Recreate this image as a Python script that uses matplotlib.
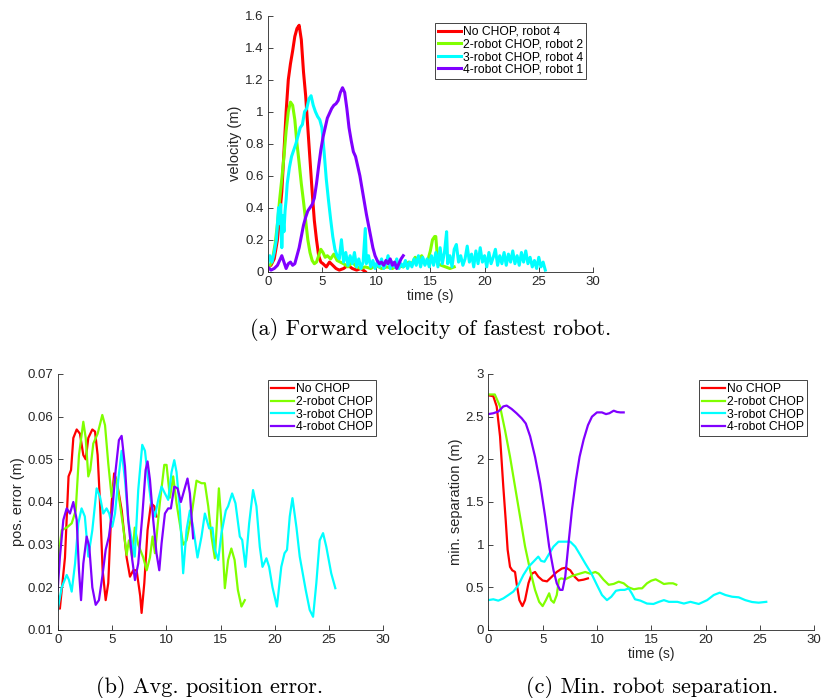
import matplotlib
matplotlib.use("Agg")
import matplotlib.pyplot as plt
from matplotlib.ticker import FormatStrFormatter, MultipleLocator

plt.rcParams['font.family'] = ['Liberation Sans', 'DejaVu Sans']

# ---------------- colours ----------------
C_RED = '#ff0000'
C_GREEN = '#80ff00'
C_CYAN = '#00ffff'
C_PURPLE = '#8000ff'

# ---------------- (a) forward velocity ----------------
vel_labels = ['No CHOP, robot 4', '2-robot CHOP, robot 2', '3-robot CHOP, robot 4', '4-robot CHOP, robot 1']

vel_t_no = [0, 0.3, 0.6, 0.9, 1.1, 1.3, 1.5, 1.7, 1.9, 2.1, 2.3, 2.5, 2.7, 2.9, 3.1, 3.3, 3.5, 3.7, 3.9, 4.1,
            4.3, 4.5, 4.7, 4.9, 5.1, 5.4, 5.7, 6.0, 6.3, 6.6, 7.0, 7.4, 7.8, 8.2, 8.6, 9.0]
vel_v_no = [0.03, 0.04, 0.08, 0.2, 0.35, 0.5, 0.75, 1.0, 1.2, 1.3, 1.38, 1.47, 1.52, 1.54, 1.45, 1.25, 1.1, 0.9, 0.7, 0.5,
            0.32, 0.2, 0.1, 0.06, 0.05, 0.03, 0.06, 0.04, 0.02, 0.01, 0.02, 0.04, 0.02, 0.01, 0.02, 0.0]

vel_t_2 = [0, 0.3, 0.5, 0.7, 0.9, 1.1, 1.3, 1.5, 1.7, 1.9, 2.1, 2.3, 2.5, 2.7, 2.9, 3.1, 3.3, 3.5, 3.7, 3.9,
           4.1, 4.3, 4.5, 4.7, 4.9, 5.1, 5.3, 5.5, 5.8, 6.1, 6.4, 6.7, 7.0, 7.4, 7.8, 8.2, 8.6, 9.0, 9.5, 10,
           10.5, 11, 11.5, 12, 12.5, 13, 13.3, 13.6, 13.9, 14.2, 14.5, 14.8, 15.0, 15.2, 15.4, 15.5, 15.7, 16.0,
           16.4, 16.8, 17.2]
vel_v_2 = [0.02, 0.05, 0.1, 0.18, 0.3, 0.45, 0.58, 0.72, 0.88, 1.0, 1.06, 1.04, 0.95, 0.8, 0.68, 0.55, 0.44, 0.32, 0.2, 0.12,
           0.07, 0.05, 0.06, 0.1, 0.14, 0.12, 0.09, 0.1, 0.08, 0.11, 0.07, 0.06, 0.05, 0.03, 0.06, 0.03, 0.02, 0.03, 0.02, 0.04,
           0.02, 0.03, 0.02, 0.04, 0.03, 0.06, 0.05, 0.09, 0.07, 0.1, 0.05, 0.08, 0.13, 0.2, 0.22, 0.22, 0.05, 0.04,
           0.03, 0.02, 0.03]

vel_t_3 = [0, 0.2, 0.4, 0.6, 0.8, 1.0, 1.1, 1.2, 1.3, 1.4, 1.5, 1.6, 1.7, 1.8, 1.9, 2.0, 2.2, 2.4, 2.6, 2.8,
           3.0, 3.2, 3.4, 3.6, 3.8, 4.0, 4.2, 4.4, 4.6, 4.8, 5.0, 5.2, 5.4, 5.6, 5.8, 6.0, 6.2, 6.4,
           6.6, 6.8, 7.0, 7.2, 7.4, 7.6, 7.8, 8.0, 8.2, 8.4, 8.6, 8.8, 9.0, 9.1, 9.3, 9.5, 9.7, 9.9,
           10.1, 10.3, 10.5, 10.7, 10.9, 11.1, 11.3, 11.5, 11.7, 11.9, 12.1, 12.3, 12.5, 12.7, 12.9,
           13.1, 13.3, 13.5, 13.7, 13.9, 14.1, 14.3, 14.5, 14.7, 14.9, 15.1, 15.3, 15.5, 15.7, 15.9,
           16.1, 16.3, 16.5, 16.6, 16.8, 17.0, 17.2, 17.4, 17.6, 17.8, 18.0, 18.2, 18.4, 18.6, 18.8,
           19.0, 19.2, 19.4, 19.6, 19.8, 20.0, 20.2, 20.4, 20.6, 20.8, 21.0, 21.2, 21.4, 21.6, 21.8,
           22.0, 22.2, 22.4, 22.6, 22.8, 23.0, 23.2, 23.4, 23.6, 23.8, 24.0, 24.2, 24.4, 24.6, 24.8,
           25.0, 25.2, 25.4, 25.6]
vel_v_3 = [0.05, 0.1, 0.06, 0.12, 0.2, 0.4, 0.3, 0.42, 0.15, 0.35, 0.25, 0.38, 0.45, 0.55, 0.6, 0.65, 0.72, 0.76, 0.8, 0.85,
           0.9, 0.92, 1.0, 1.02, 1.08, 1.1, 1.04, 1.0, 0.97, 0.95, 0.9, 0.75, 0.58, 0.45, 0.33, 0.22, 0.14, 0.1,
           0.08, 0.2, 0.06, 0.12, 0.04, 0.1, 0.05, 0.12, 0.03, 0.08, 0.02, 0.06, 0.27, 0.05, 0.1, 0.03, 0.07, 0.02,
           0.06, 0.03, 0.08, 0.02, 0.05, 0.1, 0.02, 0.06, 0.03, 0.08, 0.02, 0.05, 0.03, 0.07, 0.02,
           0.06, 0.03, 0.08, 0.04, 0.1, 0.03, 0.09, 0.04, 0.08, 0.03, 0.1, 0.04, 0.12, 0.03, 0.15,
           0.05, 0.12, 0.25, 0.05, 0.1, 0.03, 0.14, 0.17, 0.06, 0.1, 0.04, 0.08, 0.16, 0.06, 0.11,
           0.03, 0.13, 0.05, 0.15, 0.06, 0.1, 0.03, 0.12, 0.05, 0.09, 0.14, 0.04, 0.1, 0.05, 0.12,
           0.04, 0.11, 0.06, 0.13, 0.05, 0.1, 0.04, 0.12, 0.06, 0.13, 0.05, 0.09, 0.03, 0.07, 0.02,
           0.09, 0.03, 0.06, 0.01]

vel_t_4 = [0, 0.3, 0.6, 0.9, 1.1, 1.3, 1.5, 1.7, 1.9, 2.1, 2.3, 2.5, 2.7, 2.9, 3.1, 3.3, 3.5, 3.7, 3.9, 4.1,
           4.3, 4.5, 4.7, 4.9, 5.1, 5.3, 5.5, 5.7, 5.9, 6.1, 6.3, 6.5, 6.7, 6.9, 7.1, 7.3, 7.5, 7.7, 7.9, 8.1,
           8.3, 8.5, 8.7, 8.9, 9.1, 9.3, 9.5, 9.7, 9.9, 10.1, 10.3, 10.5, 10.7, 10.9, 11.1, 11.3, 11.5, 11.7,
           11.9, 12.1, 12.3, 12.5]
vel_v_4 = [0.03, 0.01, 0.02, 0.04, 0.07, 0.1, 0.06, 0.02, 0.05, 0.06, 0.04, 0.05, 0.1, 0.15, 0.22, 0.29, 0.34, 0.38, 0.4, 0.42,
           0.46, 0.55, 0.66, 0.76, 0.84, 0.9, 0.96, 0.99, 1.02, 1.04, 1.05, 1.07, 1.12, 1.15, 1.12, 1.02, 0.9, 0.82, 0.75, 0.72,
           0.66, 0.6, 0.52, 0.44, 0.36, 0.29, 0.22, 0.15, 0.1, 0.07, 0.05, 0.06, 0.04, 0.07, 0.05, 0.08, 0.04, 0.06,
           0.02, 0.05, 0.08, 0.1]

# ---------------- (b) average position error ----------------
err_labels = ['No CHOP', '2-robot CHOP', '3-robot CHOP', '4-robot CHOP']

err_t_no = [0, 0.2, 0.67, 1.0, 1.23, 1.44, 1.75, 2.05, 2.36, 2.58, 2.82, 3.19, 3.44, 3.68, 3.9, 4.14, 4.42, 4.66,
            4.97, 5.2, 5.43, 5.9, 6.35, 6.66, 6.96, 7.27, 7.6, 7.73, 7.98, 8.28, 8.6, 8.9, 9.1]
err_e_no = [0.018, 0.015, 0.027, 0.046, 0.0475, 0.055, 0.057, 0.056, 0.051, 0.05, 0.055, 0.057, 0.0565, 0.051, 0.0397,
            0.024, 0.017, 0.021, 0.0397, 0.0467, 0.045, 0.038, 0.027, 0.0225, 0.024, 0.024, 0.018, 0.014, 0.021, 0.0334,
            0.0397, 0.039, 0.0366]

err_t_2 = [0, 0.37, 0.83, 1.29, 1.66, 1.96, 2.36, 2.58, 2.82, 3.0, 3.28, 3.68, 4.11, 4.36, 4.66, 4.97, 5.3, 5.6,
           6.04, 6.35, 6.56, 6.87, 7.1, 7.42, 7.88, 8.2, 8.5, 8.74, 8.96, 9.42, 9.82, 10.03, 10.34, 10.64, 10.95,
           11.56, 11.87, 12.33, 12.79, 13.25, 13.56, 13.87, 14.17, 14.48, 14.85, 15.09, 15.4, 15.7, 16.0, 16.3,
           16.6, 16.93, 17.24]
err_e_2 = [0.0256, 0.0334, 0.034, 0.035, 0.038, 0.051, 0.0588, 0.055, 0.046, 0.0475, 0.0537, 0.056, 0.0604, 0.058,
           0.049, 0.0412, 0.046, 0.042, 0.034, 0.0276, 0.031, 0.027, 0.034, 0.030, 0.027, 0.024, 0.027, 0.0319, 0.028,
           0.040, 0.0487, 0.0487, 0.041, 0.046, 0.0397, 0.030, 0.031, 0.037, 0.045, 0.0444, 0.0444, 0.039, 0.0319,
           0.0268, 0.0432, 0.035, 0.0198, 0.0264, 0.0291, 0.0264, 0.0194, 0.0155, 0.017]

err_t_3 = [0, 0.37, 0.83, 1.04, 1.29, 1.6, 1.9, 2.2, 2.5, 2.82, 3.19, 3.59, 3.9, 4.2, 4.5, 4.75, 5.03, 5.28, 5.58,
           5.89, 6.2, 6.5, 6.87, 7.1, 7.42, 7.79, 8.04, 8.34, 8.65, 8.96, 9.26, 9.57, 9.88, 10.18, 10.49, 10.74,
           10.95, 11.26, 11.56, 11.87, 12.18, 12.48, 12.88, 13.25, 13.56, 13.96, 14.26, 14.48, 14.79, 15.09,
           15.49, 15.7, 16.07, 16.38, 16.78, 17.0, 17.3, 17.64, 18.0, 18.31, 18.62, 18.87, 19.23, 19.48, 19.79,
           20.2, 20.6, 20.9, 21.13, 21.38, 21.63, 22.0, 22.3, 22.85, 23.22, 23.53, 23.83, 24.14, 24.45, 24.75,
           25.2, 25.58]
err_e_3 = [0.0147, 0.020, 0.0229, 0.0217, 0.019, 0.0256, 0.035, 0.0385, 0.0366, 0.0272, 0.0334, 0.0432, 0.0412,
           0.0373, 0.0385, 0.0373, 0.0342, 0.0373, 0.0452, 0.052, 0.0452, 0.0358, 0.0303, 0.0272, 0.0428, 0.0534,
           0.052, 0.0452, 0.039, 0.0366, 0.0405, 0.0436, 0.042, 0.0405, 0.047, 0.0498, 0.047, 0.038, 0.0233, 0.0334,
           0.038, 0.034, 0.027, 0.0319, 0.0373, 0.0338, 0.034, 0.0288, 0.0264, 0.0327, 0.038, 0.039, 0.042, 0.0397,
           0.0319, 0.0311, 0.0248, 0.035, 0.0428, 0.039, 0.0295, 0.0248, 0.0268, 0.0248, 0.020, 0.0155, 0.0248,
           0.028, 0.0288, 0.0366, 0.0409, 0.034, 0.0272, 0.0194, 0.0147, 0.0131, 0.021, 0.031, 0.0327, 0.0295,
           0.0233, 0.0198]

err_t_4 = [0, 0.2, 0.52, 0.83, 1.13, 1.44, 1.75, 1.96, 2.15, 2.36, 2.67, 2.91, 3.19, 3.5, 3.8, 4.11, 4.42, 4.72,
           5.03, 5.34, 5.64, 5.89, 6.2, 6.5, 6.87, 7.12, 7.42, 7.79, 8.1, 8.28, 8.5, 8.8, 9.1, 9.36, 9.57, 9.88,
           10.18, 10.43, 10.74, 11.04, 11.35, 11.66, 11.96, 12.18, 12.33, 12.48]
err_e_4 = [0.0194, 0.027, 0.0358, 0.0385, 0.0373, 0.040, 0.0358, 0.024, 0.017, 0.0256, 0.0319, 0.0295, 0.020, 0.0159,
           0.017, 0.0225, 0.0288, 0.0319, 0.038, 0.0475, 0.0545, 0.0555, 0.0483, 0.0358, 0.0264, 0.0217, 0.0256,
           0.0366, 0.0475, 0.0495, 0.0452, 0.0358, 0.028, 0.024, 0.0303, 0.0373, 0.0385, 0.0385, 0.0436, 0.0432,
           0.040, 0.0428, 0.0455, 0.042, 0.0366, 0.0315]

# ---------------- (c) minimum robot separation ----------------
sep_t_no = [0, 0.46, 0.77, 1.08, 1.38, 1.6, 1.78, 2.0, 2.2, 2.46, 2.6, 2.86, 3.14, 3.38, 3.7, 4.0, 4.3, 4.6, 5.0,
            5.4, 5.85, 6.3, 6.77, 7.14, 7.54, 7.94, 8.3, 8.77, 9.17]
sep_s_no = [2.75, 2.74, 2.62, 2.27, 1.68, 1.29, 0.94, 0.74, 0.70, 0.68, 0.55, 0.35, 0.28, 0.35, 0.55, 0.66, 0.68,
            0.625, 0.58, 0.57, 0.625, 0.68, 0.72, 0.73, 0.70, 0.625, 0.58, 0.59, 0.605]

sep_t_2 = [0, 0.6, 1.08, 1.54, 2.0, 2.46, 2.92, 3.38, 3.85, 4.3, 4.68, 5.0, 5.3, 5.6, 5.78, 6.03, 6.3, 6.5, 6.7,
           7.08, 7.7, 8.3, 8.92, 9.38, 9.85, 10.15, 10.6, 11.08, 11.54, 12.0, 12.46, 12.9, 13.4, 13.85, 14.15,
           14.6, 15.0, 15.4, 15.8, 16.16, 16.62, 17.0, 17.3]
sep_s_2 = [2.76, 2.76, 2.62, 2.34, 2.03, 1.68, 1.33, 0.98, 0.70, 0.47, 0.33, 0.28, 0.35, 0.43, 0.35, 0.32, 0.41,
           0.59, 0.605, 0.594, 0.633, 0.656, 0.68, 0.66, 0.68, 0.66, 0.59, 0.53, 0.54, 0.566, 0.547, 0.50, 0.477,
           0.488, 0.488, 0.547, 0.578, 0.594, 0.566, 0.539, 0.547, 0.547, 0.531]

sep_t_3 = [0, 0.46, 0.92, 1.38, 1.85, 2.3, 2.77, 3.23, 3.7, 4.15, 4.6, 4.86, 5.17, 5.54, 6.0, 6.46, 7.08, 7.54,
           8.0, 8.46, 8.92, 9.48, 10.0, 10.46, 10.92, 11.32, 11.75, 12.15, 12.55, 12.92, 13.2, 13.5, 14.0, 14.6,
           15.2, 15.7, 16.16, 16.62, 17.4, 18.0, 18.6, 19.37, 20.14, 20.75, 21.3, 21.82, 22.43, 23.04, 23.65,
           24.27, 24.88, 25.58]
sep_s_3 = [0.35, 0.36, 0.344, 0.37, 0.41, 0.45, 0.527, 0.645, 0.74, 0.80, 0.86, 0.81, 0.80, 0.88, 0.977, 1.035,
           1.035, 1.035, 0.977, 0.88, 0.78, 0.664, 0.527, 0.41, 0.35, 0.39, 0.46, 0.47, 0.47, 0.488, 0.43, 0.36,
           0.344, 0.31, 0.305, 0.33, 0.35, 0.33, 0.33, 0.31, 0.33, 0.305, 0.35, 0.41, 0.4375, 0.41, 0.39, 0.383,
           0.35, 0.328, 0.32, 0.33]

sep_t_4 = [0, 0.46, 0.92, 1.38, 1.69, 2.15, 2.6, 3.08, 3.45, 3.85, 4.3, 4.77, 5.23, 5.6, 6.0, 6.3, 6.6, 6.83,
           7.08, 7.38, 7.7, 8.06, 8.4, 8.77, 9.17, 9.54, 10.0, 10.46, 10.83, 11.14, 11.54, 11.85, 12.15, 12.46]
sep_s_4 = [2.53, 2.54, 2.56, 2.62, 2.63, 2.59, 2.54, 2.48, 2.42, 2.27, 2.03, 1.72, 1.33, 0.977, 0.70, 0.547, 0.47,
           0.47, 0.625, 1.015, 1.41, 1.76, 2.03, 2.23, 2.40, 2.5, 2.55, 2.55, 2.53, 2.54, 2.57, 2.555, 2.55, 2.55]

captions = ['(a) Forward velocity of fastest robot.', '(b) Avg. position error.', '(c) Min. robot separation.']

COLORS = [C_RED, C_GREEN, C_CYAN, C_PURPLE]

W, H = 822, 698
fig = plt.figure(figsize=(W / 100, H / 100), dpi=100)

AXC = '#262626'


def style(ax, xlim, ylim, ystep, ylabel, xlabel=None):
    ax.set_xlim(*xlim)
    ax.set_ylim(*ylim)
    ax.xaxis.set_major_locator(MultipleLocator(5))
    ax.yaxis.set_major_locator(MultipleLocator(ystep))
    ax.yaxis.set_major_formatter(FormatStrFormatter('%g'))
    ax.xaxis.set_major_formatter(FormatStrFormatter('%g'))
    for s in ['top', 'right']:
        ax.spines[s].set_visible(False)
    for s in ['left', 'bottom']:
        ax.spines[s].set_color(AXC)
        ax.spines[s].set_linewidth(0.6)
    ax.tick_params(direction='in', length=3.5, width=0.6, colors=AXC, labelsize=9.5, pad=3)
    ax.set_ylabel(ylabel, fontsize=10.5, color=AXC, labelpad=2)
    if xlabel:
        ax.set_xlabel(xlabel, fontsize=10, color=AXC, labelpad=0.5)


def add_legend(ax, anchor):
    leg = ax.legend(loc='upper right', bbox_to_anchor=anchor, borderaxespad=0, fontsize=8.7,
                    frameon=True, fancybox=False, framealpha=1, edgecolor=AXC,
                    handlelength=1.9, handletextpad=0.15, labelspacing=0.05, borderpad=0.25)
    leg.get_frame().set_linewidth(0.6)
    for t in leg.get_texts():
        t.set_color('#000000')
    return leg


# (a)
axa = fig.add_axes([267.7 / W, 1 - 271.7 / H, (593 - 267.7) / W, (271.7 - 15.7) / H])
for tt, vv, c, lab in zip([vel_t_no, vel_t_2, vel_t_3, vel_t_4], [vel_v_no, vel_v_2, vel_v_3, vel_v_4], COLORS, vel_labels):
    axa.plot(tt, vv, color=c, lw=2.2, label=lab, solid_joinstyle='round')
style(axa, (0, 30), (0, 1.6), 0.2, 'velocity (m)', 'time (s)')
add_legend(axa, (0.978, 0.972))

# (b)
axb = fig.add_axes([57.7 / W, 1 - 630 / H, (383.3 - 57.7) / W, 256 / H])
for tt, vv, c, lab in zip([err_t_no, err_t_2, err_t_3, err_t_4], [err_e_no, err_e_2, err_e_3, err_e_4], COLORS, err_labels):
    axb.plot(tt, vv, color=c, lw=1.6, label=lab, solid_joinstyle='round')
style(axb, (0, 30), (0.01, 0.07), 0.01, 'pos. error (m)')
add_legend(axb, (0.978, 0.975))

# (c)
axc = fig.add_axes([488.3 / W, 1 - 630 / H, (814.3 - 488.3) / W, 256 / H])
for tt, vv, c, lab in zip([sep_t_no, sep_t_2, sep_t_3, sep_t_4], [sep_s_no, sep_s_2, sep_s_3, sep_s_4], COLORS, err_labels):
    axc.plot(tt, vv, color=c, lw=1.6, label=lab, solid_joinstyle='round')
style(axc, (0, 30), (0, 3), 0.5, 'min. separation (m)', 'time (s)')
add_legend(axc, (0.977, 0.975))

# captions
cap_font = dict(fontsize=16, family=['cmr10', 'DejaVu Serif'], ha='center', va='baseline', color='#000000')
fig.text(430.5 / W, 1 - 335 / H, captions[0], **cap_font)
fig.text(210 / W, 1 - 693 / H, captions[1], **cap_font)
fig.text(652 / W, 1 - 693 / H, captions[2], **cap_font)

fig.savefig('out.png', dpi=100)
